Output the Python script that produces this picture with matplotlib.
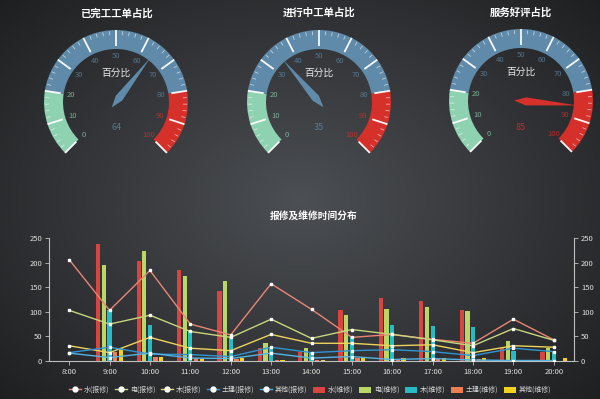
import matplotlib.pyplot as plt
import numpy as np
from matplotlib.patches import Wedge, Polygon, Patch
from matplotlib.lines import Line2D

plt.rcParams['font.family'] = ['Noto Sans CJK SC', 'DejaVu Sans']

# gauge data
gauge_titles = ['已完工工单占比', '进行中工单占比', '服务好评占比']
gauge_values = [64, 35, 85]
gauge_name = '百分比'

# time distribution data
hours = ['8:00', '9:00', '10:00', '11:00', '12:00', '13:00', '14:00',
         '15:00', '16:00', '17:00', '18:00', '19:00', '20:00']

# 报修 (lines)
water_report = [206, 103, 184, 75, 53, 157, 105, 48, 54, 44, 36, 85, 43]
elec_report = [103, 75, 93, 60, 48, 85, 46, 64, 54, 43, 31, 66, 42]
wood_report = [31, 17, 48, 26, 21, 54, 36, 36, 31, 33, 17, 31, 28]
civil_report = [17, 28, 14, 13, 9, 28, 17, 21, 23, 19, 11, 26, 19]
other_report = [16, 7, 16, 6, 5, 16, 6, 9, 3, 5, 2, 1, 1]

# 维修 (bars)
water_fix = [0, 238, 204, 184, 142, 26, 19, 103, 129, 121, 103, 26, 19]
elec_fix = [0, 195, 223, 173, 162, 36, 27, 93, 105, 110, 102, 40, 26]
wood_fix = [0, 103, 73, 62, 51, 27, 19, 51, 73, 72, 70, 20, 20]
civil_fix = [0, 19, 8, 6, 5, 2, 3, 7, 5, 5, 4, 0, 0]
other_fix = [0, 26, 8, 5, 6, 2, 2, 7, 6, 6, 6, 3, 7]

line_names = ['水(报修)', '电(报修)', '木(报修)', '土建(报修)', '其他(报修)']
bar_names = ['水(维修)', '电(维修)', '木(维修)', '土建(维修)', '其他(维修)']
line_colors = ['#ea8574', '#c5d67c', '#ecd35e', '#2f95d2', '#53b2e4']
bar_colors = ['#d8443f', '#b8d765', '#27bcc4', '#ef7d53', '#f3d21e']

W, H = 600, 399
fig = plt.figure(figsize=(6, 3.99), dpi=100)

# background radial gradient
bg = fig.add_axes([0, 0, 1, 1])
yy, xx = np.mgrid[0:H, 0:W]
d = np.sqrt(((xx - 300) / 420.0) ** 2 + ((yy - 200) / 300.0) ** 2)
d = np.clip(d, 0, 1)
c0 = np.array([0x4c, 0x4f, 0x53]) / 255.0
c1 = np.array([0x1d, 0x1e, 0x20]) / 255.0
img = c0[None, None, :] * (1 - d[..., None]) + c1[None, None, :] * d[..., None]
bg.imshow(img, extent=[0, W, 0, H], origin='upper', aspect='auto')
bg.set_xlim(0, W)
bg.set_ylim(0, H)
bg.axis('off')

# gauges
green, blue, red = '#8fd2b1', '#5f8aa9', '#d6302a'
bands = [(0, 20, green), (20, 80, blue), (80, 100, red)]
centers = [(116, 102), (319, 102), (521, 101)]


def band_color(v):
    for lo, hi, c in bands:
        if lo <= v <= hi:
            return c
    return blue


def ang(v):
    return 225 - v / 100.0 * 270


def draw_gauge(ax, cx, cy_img, value, title):
    cy = H - cy_img
    R, w = 72, 19
    for lo, hi, c in bands:
        ax.add_patch(Wedge((cx, cy), R, ang(hi), ang(lo), width=w, color=c, lw=0))
    for v in np.arange(0, 101, 2):
        a = np.radians(ang(v))
        if v % 10 == 0:
            r0, r1, lw, al = R - 16, R, 1.3, 0.95
        else:
            r0, r1, lw, al = R - 5, R - 1, 0.6, 0.6
        ax.plot([cx + r0 * np.cos(a), cx + r1 * np.cos(a)],
                [cy + r0 * np.sin(a), cy + r1 * np.sin(a)],
                color='white', lw=lw, alpha=al, solid_capstyle='butt')
    for v in range(0, 101, 10):
        a = np.radians(ang(v))
        ax.text(cx + 46 * np.cos(a), cy + 46 * np.sin(a), str(v),
                color=band_color(v), fontsize=5.5, ha='center', va='center', alpha=0.75)
    ax.text(cx, cy + 29, gauge_name, color='#e8e8e8', fontsize=7, ha='center', va='center')
    ax.text(cx, cy - 26, str(value), color=band_color(value), fontsize=6.5,
            ha='center', va='center', alpha=0.8)
    a = np.radians(ang(value))
    u = np.array([np.cos(a), np.sin(a)])
    n = np.array([-u[1], u[0]])
    c = np.array([cx, cy])
    pts = [c - 7 * u, c + 5 * u + 4 * n, c + 56 * u, c + 5 * u - 4 * n]
    ax.add_patch(Polygon(pts, closed=True, color=band_color(value), lw=0))
    ax.text(cx, H - 13, title, color='white', fontsize=7.5, fontweight='bold',
            ha='center', va='center')


for (cx, cy), v, t in zip(centers, gauge_values, gauge_titles):
    draw_gauge(bg, cx, cy, v, t)

bg.text(314, H - 216, '报修及维修时间分布', color='white', fontsize=7, fontweight='bold',
        ha='center', va='center')

# bar + line chart
ax = fig.add_axes([49 / W, (H - 361) / H, 525 / W, 123 / H])
ax.set_facecolor('none')
x = np.arange(len(hours))
bar_series = [water_fix, elec_fix, wood_fix, civil_fix, other_fix]
line_series = [water_report, elec_report, wood_report, civil_report, other_report]
for i, (vals, c) in enumerate(zip(bar_series, bar_colors)):
    ax.bar(x + (i - 2) * 0.14, vals, width=0.105, color=c, zorder=2)
for vals, c in zip(line_series, line_colors):
    ax.plot(x, vals, color=c, lw=1.0, marker='s', markersize=1.8,
            markerfacecolor='white', markeredgecolor='white', zorder=3)

ax.set_xlim(-0.5, len(hours) - 0.5)
ax.set_ylim(0, 250)
ax.set_yticks(range(0, 251, 50))
ax.set_xticks(x)
ax.set_xticklabels(hours)
axis_col = '#bfbfbf'
for s in ['top', 'right']:
    ax.spines[s].set_visible(False)
for s in ['left', 'bottom']:
    ax.spines[s].set_color(axis_col)
    ax.spines[s].set_linewidth(0.8)
ax.tick_params(colors=axis_col, labelcolor='#e0e0e0', labelsize=5.5, length=3, width=0.6, pad=2)

ax2 = ax.twinx()
ax2.set_ylim(0, 250)
ax2.set_yticks(range(0, 251, 50))
for s in ['top', 'left', 'bottom']:
    ax2.spines[s].set_visible(False)
ax2.spines['right'].set_color(axis_col)
ax2.spines['right'].set_linewidth(0.8)
ax2.tick_params(colors=axis_col, labelcolor='#e0e0e0', labelsize=5.5, length=3, width=0.6, pad=2)

handles = []
for n, c in zip(line_names, line_colors):
    handles.append(Line2D([0], [0], color=c, lw=1.0, marker='o', markersize=3.5,
                          markerfacecolor='white', markeredgecolor='white', label=n))
for n, c in zip(bar_names, bar_colors):
    handles.append(Patch(facecolor=c, edgecolor='none', label=n))
leg = fig.legend(handles=handles, loc='center', bbox_to_anchor=(310 / W, (H - 390) / H),
                 ncol=10, frameon=False, fontsize=5, handlelength=1.8, handleheight=1.0,
                 columnspacing=0.8, handletextpad=0.35, labelcolor='#d8d8d8')

fig.savefig('out.png', dpi=100)
